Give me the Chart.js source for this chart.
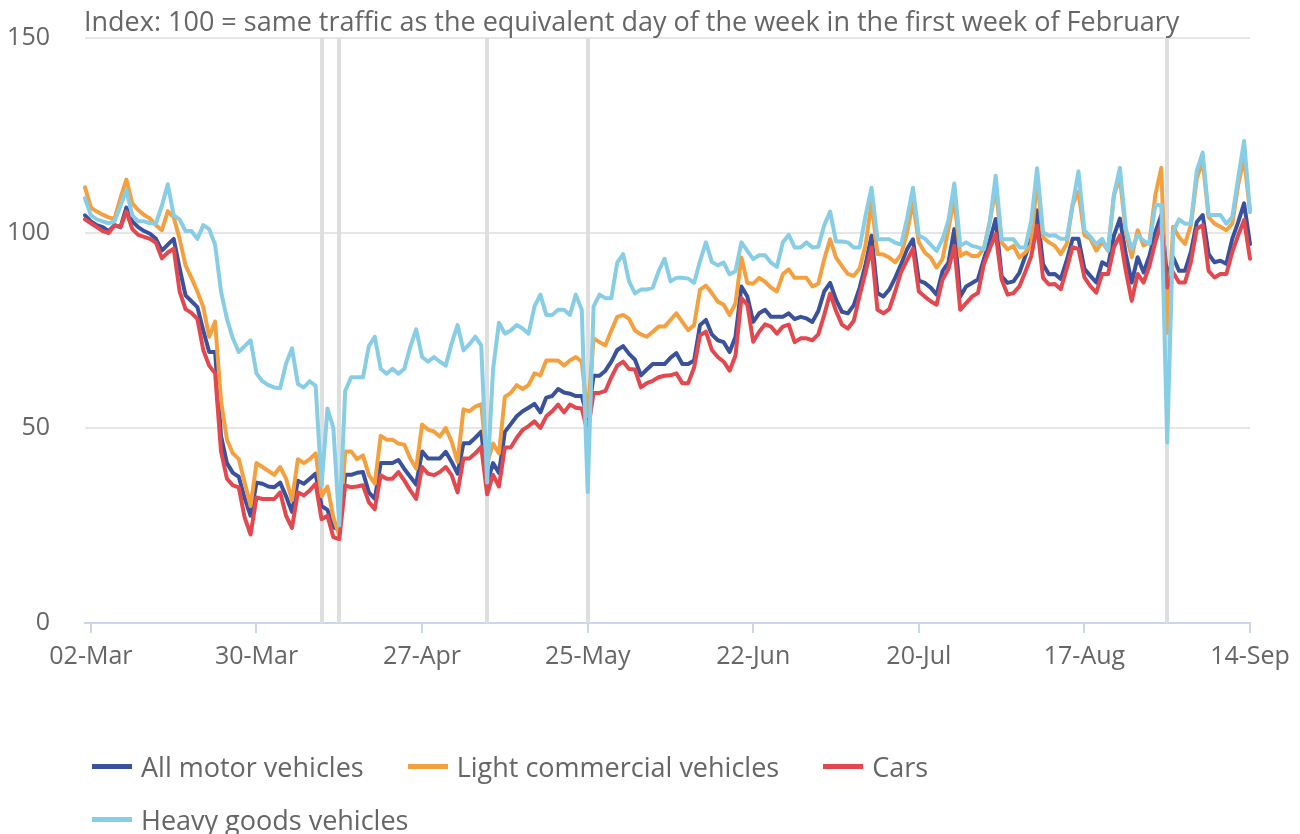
<!DOCTYPE html>
<html>
<head>
<meta charset="utf-8">
<script src="https://cdn.jsdelivr.net/npm/chart.js@4.4.1/dist/chart.umd.min.js"></script>
<style>
  html, body { margin: 0; padding: 0; background: #fff; }
  #wrap { position: relative; width: 1300px; height: 834px; overflow: hidden; }
  #legend { position: absolute; left: 92px; top: 740px; width: 900px; display: flex; flex-wrap: wrap;
            font-family: 'Open Sans', sans-serif; font-size: 27px; color: #666; }
  .item { display: flex; align-items: center; height: 53px; margin-right: 44px; white-space: nowrap; }
  .swatch { width: 40px; height: 5px; margin-right: 9px; }
</style>
</head>
<body>
<div id="wrap">
  <canvas id="trafficChart" width="1300" height="834"></canvas>
  <div id="legend"></div>
</div>
<script>
// --- Data (daily index, 01-Mar to 14-Sep 2020, one row per week starting Sunday) ---
const axisTitle = 'Index: 100 = same traffic as the equivalent day of the week in the first week of February';
const tickLabels = ['02-Mar', '30-Mar', '27-Apr', '25-May', '22-Jun', '20-Jul', '17-Aug', '14-Sep'];
const bankHolidays = ['10-Apr', '13-Apr', '08-May', '25-May', '31-Aug'];
const seriesNames = ['All motor vehicles', 'Light commercial vehicles', 'Cars', 'Heavy goods vehicles'];
const seriesColors = ['#3a529e', '#f5a03f', '#e4484f', '#86cde5'];

const allMotor = [
  104.5, 103, 102, 101.5, 100.5, 102, 101.5,
  106.5, 103, 101.5, 100.5, 99.8, 98.5, 95.5,
  97, 98.5, 91, 84, 82.5, 81, 75,
  69.5, 69.5, 48, 41, 38.5, 37.5, 32,
  27.5, 36, 35.7, 35, 34.8, 36, 32.5,
  28.5, 36.5, 35.7, 37, 38.3, 30, 29,
  24.5, 24, 38, 38, 38.5, 38.7, 33.5,
  31.8, 41, 41, 41, 41.8, 39.5, 37.5,
  35.5, 44, 42.2, 42.2, 42.2, 43.9, 41.3,
  38.3, 46.1, 46.1, 47.5, 49.1, 36, 41,
  38.5, 49, 51, 53, 54.3, 55.2, 56.2,
  54, 57.8, 58.2, 60, 59.1, 58.8, 58.2,
  58.2, 52.6, 63.4, 63.4, 64.7, 67, 70,
  71, 69, 67.5, 63.5, 65, 66.4, 66.4,
  66.4, 68, 69.2, 66.4, 66.4, 67.3, 76.4,
  77.7, 74, 72.5, 72, 69.5, 73.4, 86.3,
  83.7, 77.2, 79.4, 80.3, 78.5, 78.5, 78.5,
  79.4, 77.9, 78.5, 78.1, 77.2, 80, 85,
  87.2, 82.9, 79.8, 79.4, 81.5, 86, 92,
  99.3, 84.6, 83.7, 85.5, 88.5, 92, 95.8,
  98.4, 87.8, 87.2, 86, 84.2, 90.2, 92.4,
  101, 83.7, 86.3, 87.2, 88.1, 93.3, 98,
  103.6, 88.9, 87.2, 87.6, 89.8, 94, 98.4,
  105.8, 92, 89.4, 89.5, 88.2, 92.9, 98.5,
  98.5, 90.8, 89, 87.3, 92.5, 91.6, 99.4,
  103.7, 94.6, 87.3, 93.8, 89.9, 94.2, 100.3,
  104.6, 88.2, 93.8, 90.3, 90.3, 95.1, 102.8,
  104.6, 94.6, 92.5, 92.9, 92.1, 98.5, 102.8,
  107.6, 97.2
];

const lightCommercial = [
  111.7, 106.5, 105.5, 104.7, 104, 103.6, 109,
  113.7, 107.6, 105.9, 104.6, 103.7, 102, 100.7,
  105.6, 104, 98.5, 91.7, 88.5, 85, 81,
  73.4, 77.3, 57, 47, 43.5, 42, 36,
  30, 41, 40, 39, 38, 40, 37,
  31.5, 42, 41, 42, 43.5, 32.5, 35,
  27, 22.5, 44, 44, 42, 43, 38,
  35.7, 48, 47, 47, 46, 45.7, 42.2,
  39.6, 50.9, 49.6, 49.1, 47.8, 50, 46.5,
  41.3, 54.8, 54.3, 55.5, 56.1, 41, 46,
  43.5, 58, 59, 61, 60, 61, 64,
  63.5, 67.3, 67.3, 67.3, 66, 67.3, 68.2,
  67, 53, 73, 72, 71.2, 75, 78.5,
  79, 78, 75, 74, 73.4, 74.7, 76,
  76, 77.7, 79.4, 77.2, 75.1, 76.4, 85.5,
  86.5, 84.6, 82.4, 81.6, 79, 82, 93.7,
  87.2, 87, 88.5, 87.5, 86, 85, 89.4,
  90.7, 88.5, 88.5, 88.5, 86.3, 87, 93.3,
  98.4, 93.7, 91.5, 89.5, 89, 91, 97,
  108, 94.6, 94.5, 93.7, 92.5, 94.5, 100,
  108, 97.6, 95, 93.7, 91.1, 93.3, 101,
  108.8, 94.1, 95, 94.1, 94.1, 96, 103,
  111.4, 97.6, 95.8, 96.7, 93.7, 95, 97,
  114, 98.9, 97.6, 96.7, 94.6, 97.2, 107.2,
  110.6, 99.4, 98.5, 95.5, 97.7, 95.5, 109.8,
  114.1, 100.3, 93.8, 100.7, 96.8, 97.7, 109.8,
  116.7, 74.4, 101.6, 98.9, 97.2, 102, 114,
  118.5, 104.1, 102.4, 101.6, 100.7, 102.4, 112.3,
  119.3, 105.4
];

const cars = [
  103.5, 102.5, 101.5, 100.5, 100, 102, 101.5,
  105.5, 101, 99.5, 99, 98.5, 97.5, 93.5,
  95, 96, 85, 80.5, 79.5, 78, 70,
  66, 64, 44, 37, 35.3, 34.8, 27,
  22.7, 32.2, 31.8, 31.8, 31.8, 33.5, 27.5,
  24.4, 33.5, 32.7, 34, 35.7, 26.6, 27.5,
  22, 21.5, 35.3, 34.8, 35, 35.3, 31,
  29.2, 37.9, 37, 37, 38.7, 36.5, 34,
  31.8, 40, 38.3, 37.9, 38.7, 40, 37.9,
  33.5, 42.2, 42.2, 43.5, 45.2, 33, 38,
  35, 45, 45, 47.5, 49.5, 50.5, 51.7,
  50, 53, 54.3, 56, 54, 56, 55.2,
  55, 49, 59, 59, 59.5, 63, 66,
  67, 65.1, 65, 60.4, 61.5, 62.1, 63,
  63.4, 63.5, 64, 61.5, 61.5, 65.5, 73.8,
  74.7, 70, 68.2, 67, 64.7, 68.6, 83.3,
  81.6, 72.1, 74.7, 76.6, 76, 74.2, 76,
  76.5, 72, 73, 73, 72.5, 74, 79,
  84.5, 80, 76.5, 75.5, 77.5, 84, 90,
  96.3, 80.3, 79.4, 80.5, 85, 90, 93,
  96, 85, 83.7, 82.5, 81.6, 88, 90.7,
  96.7, 80.3, 82, 83.7, 84.6, 92, 96,
  99.7, 88.1, 84.2, 84.6, 86.3, 90, 94,
  101.9, 88.5, 86.8, 86.9, 85.6, 90.8, 96.4,
  95.9, 88.6, 86.4, 84.7, 89.5, 89.5, 96.4,
  99.4, 90.3, 82.6, 89.5, 87.3, 91.6, 97.7,
  102.4, 86, 89.9, 87.3, 87.3, 92.5, 101.1,
  102, 90.3, 88.6, 89.5, 89.5, 95.1, 99.4,
  103.3, 93.4
];

const heavyGoods = [
  108.9, 104.5, 103.5, 103, 102.5, 103, 107,
  111, 104.5, 103, 103, 102.5, 102.5, 107,
  112.5, 104.5, 103.5, 100.5, 100.5, 98.5, 102,
  101, 97, 85, 78, 73, 69.5, 71,
  72.5, 64, 62, 61, 60.4, 60.2, 66.5,
  70.4, 61.3, 60.4, 62, 60.8, 35.3, 55,
  50, 25, 59.5, 63, 63, 63, 71,
  73.4, 65.2, 63.9, 65.2, 63.9, 65.2, 70.8,
  75.3, 68.2, 67, 68.2, 67, 66, 71.7,
  76.4, 69.9, 71.5, 73.4, 71.2, 36, 65,
  77, 74.2, 75, 76.4, 75.5, 74.2, 81.1,
  84.2, 79, 79, 80.3, 80.3, 79, 84.2,
  80.3, 33.6, 81.1, 84.2, 83.3, 83.3, 92.4,
  94.6, 87.6, 84.5, 85.5, 85.5, 86, 90.2,
  93.4, 87.6, 88.5, 88.5, 88.3, 87.2, 92.8,
  97.6, 92.6, 91.7, 92.4, 89.4, 90.2, 97.6,
  95.4, 93.3, 94.3, 94.3, 92.4, 91.3, 97.6,
  99.5, 96.3, 96.3, 97.6, 96.3, 96.5, 102,
  105.5, 97.8, 97.8, 97.6, 96.3, 96.3, 104.5,
  111.6, 98.4, 98.4, 98.4, 97.5, 97, 103.6,
  111.6, 99.3, 98.6, 97, 95.4, 98.4, 103.2,
  112.7, 96.7, 97.6, 96.7, 96.3, 95.8, 102.8,
  114.7, 98.4, 98.4, 98.4, 96.3, 96.3, 103,
  116.6, 100.2, 99.3, 99.4, 98.5, 98.5, 107.2,
  115.8, 100.7, 99, 97.2, 98.5, 95.5, 109.8,
  116.7, 101.1, 95.9, 99.4, 98, 97.2, 107.2,
  107.2, 46.3, 100.3, 103.5, 102.4, 102.4, 116,
  120.6, 104.6, 104.6, 104.6, 102.4, 104.1, 114.1,
  123.6, 105.4
];

// --- Category labels: every day from 01-Mar to 14-Sep ---
const monthNames = ['Jan', 'Feb', 'Mar', 'Apr', 'May', 'Jun', 'Jul', 'Aug', 'Sep', 'Oct', 'Nov', 'Dec'];
const categories = [];
for (let d = new Date(2020, 2, 1); d <= new Date(2020, 8, 14); d.setDate(d.getDate() + 1)) {
    categories.push(String(d.getDate()).padStart(2, '0') + '-' + monthNames[d.getMonth()]);
}

const fontFamily = "'Open Sans', sans-serif";

// grey plot lines on bank holidays, under the series
const holidayLines = {
    id: 'holidayLines',
    beforeDatasetsDraw(chart) {
        const { ctx, chartArea, scales: { x } } = chart;
        ctx.save();
        ctx.strokeStyle = '#dedede';
        ctx.lineWidth = 4;
        bankHolidays.forEach(label => {
            const px = Math.round(x.getPixelForValue(categories.indexOf(label)));
            ctx.beginPath();
            ctx.moveTo(px, chartArea.top);
            ctx.lineTo(px, chartArea.bottom);
            ctx.stroke();
        });
        ctx.restore();
    }
};

// the y axis title sits above the plot, left aligned
const topAxisTitle = {
    id: 'topAxisTitle',
    afterDraw(chart) {
        const { ctx } = chart;
        ctx.save();
        ctx.font = "27px " + fontFamily;
        ctx.fillStyle = '#666666';
        ctx.textAlign = 'left';
        ctx.textBaseline = 'alphabetic';
        ctx.fillText(axisTitle, 84, 31);
        ctx.restore();
    }
};

const seriesData = [allMotor, lightCommercial, cars, heavyGoods];

const ctx = document.getElementById('trafficChart').getContext('2d');
const trafficChart = new Chart(ctx, {
    type: 'line',
    data: {
        labels: categories,
        datasets: seriesData.map((values, i) => ({
            label: seriesNames[i],
            data: values,
            borderColor: seriesColors[i],
            backgroundColor: seriesColors[i],
            order: seriesData.length - i   // later series drawn on top
        }))
    },
    options: {
        responsive: false,
        animation: false,
        devicePixelRatio: 1,
        layout: { padding: { top: 38, right: 50, left: 0, bottom: 0 } },
        elements: {
            point: { radius: 0 },
            line: { tension: 0, borderWidth: 4, borderJoinStyle: 'round', borderCapStyle: 'round', fill: false }
        },
        plugins: {
            legend: { display: false },
            tooltip: { enabled: false }
        },
        scales: {
            x: {
                type: 'category',
                offset: false,
                grid: { drawOnChartArea: false, drawTicks: true, tickLength: 10, color: '#ccd6eb', lineWidth: 2 },
                border: { display: true, color: '#ccd6eb', width: 2 },
                ticks: {
                    autoSkip: false,
                    maxRotation: 0,
                    padding: 9,
                    color: '#666666',
                    font: { family: fontFamily, size: 25 },
                    callback(value) { return this.getLabelForValue(value); }
                },
                afterBuildTicks(scale) {
                    scale.ticks = scale.ticks.filter(t => tickLabels.includes(categories[t.value]));
                },
                afterFit(scale) { scale.height = 211; }
            },
            y: {
                min: 0,
                max: 150,
                ticks: { stepSize: 50, padding: 0, color: '#666666', font: { family: fontFamily, size: 25 } },
                // invisible tick marks keep the labels 35px left of the plot
                grid: { color: '#e6e6e6', lineWidth: 2, drawTicks: true, tickLength: 35, tickColor: 'rgba(0,0,0,0)' },
                border: { display: false },
                afterFit(scale) { scale.width = 85; }
            }
        }
    },
    plugins: [holidayLines, topAxisTitle]
});

// --- HTML legend, left aligned under the plot ---
const legendEl = document.getElementById('legend');
trafficChart.data.datasets.forEach(ds => {
    const item = document.createElement('div');
    item.className = 'item';
    const sw = document.createElement('span');
    sw.className = 'swatch';
    sw.style.background = ds.borderColor;
    const txt = document.createElement('span');
    txt.textContent = ds.label;
    item.appendChild(sw);
    item.appendChild(txt);
    legendEl.appendChild(item);
});
</script>
</body>
</html>
